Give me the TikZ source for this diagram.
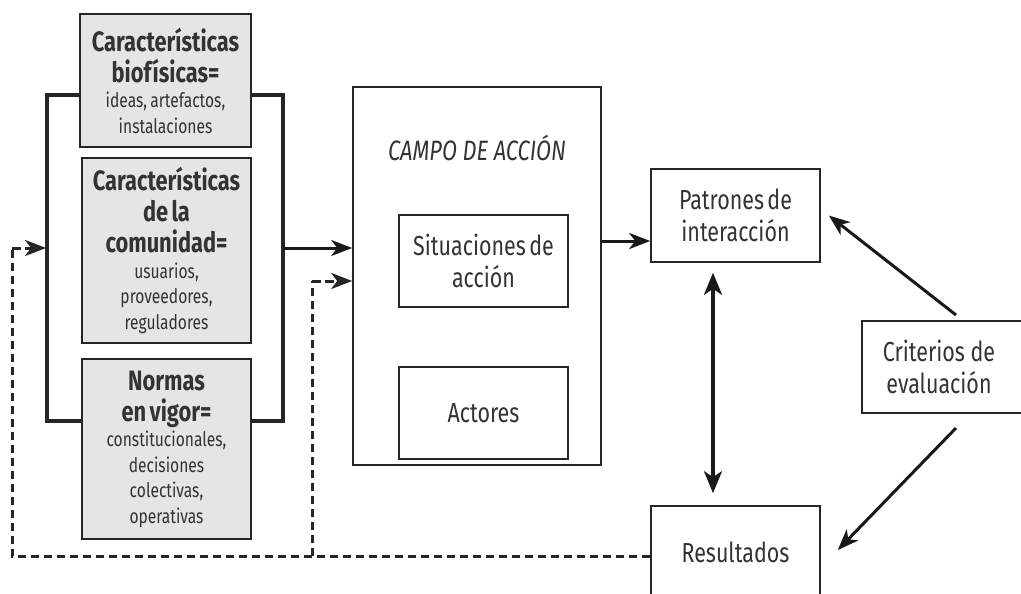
\documentclass[tikz,border=0pt]{standalone}
\usepackage{fontspec}
\setmainfont[FakeStretch=0.78]{Fira Sans}
\usetikzlibrary{arrows.meta,calc}
\newcommand{\hdf}{\fontsize{28}{31}\bfseries}
\newcommand{\smf}{\fontsize{20}{25.5}\selectfont}
\newcommand{\lbf}{\fontsize{27.5}{32}\selectfont}
\begin{document}
\begin{tikzpicture}[x=1pt,y=-1pt,
 box/.style={draw=black!85, line width=1.6pt, fill=white, inner sep=0pt, align=center, text=black!80, text width=166pt},
 gbox/.style={box, fill=black!10},
 brk/.style={line width=3.4pt, draw=black!85},
 tip/.style={-{Stealth[length=21pt,width=16pt,inset=6pt]}},
 arr/.style={line width=3pt, draw=black!90, tip},
 darr/.style={line width=3.4pt, draw=black!90, {Stealth[length=22pt,width=18pt,inset=6pt]}-{Stealth[length=22pt,width=18pt,inset=6pt]}},
 dsh/.style={line width=3pt, dash pattern=on 8.5pt off 4.5pt, draw=black!85},
]
\clip (0,0) rectangle (1021,594);
\fill[white] (0,0) rectangle (1021,594);

% left column
\node[gbox, minimum width=171pt, minimum height=133pt] (b1) at (165.5,80.5)
 {{\hdf Características\\ biofísicas=\par}{\smf ideas, artefactos,\\ instalaciones\par}};
\node[gbox, minimum width=169pt, minimum height=185pt] (b2) at (166.5,250.5)
 {{\hdf Características\\ de la\\ comunidad=\par}{\smf usuarios,\\ proveedores,\\ reguladores\par}};
\node[gbox, minimum width=169pt, minimum height=180pt] (b3) at (166.5,449)
 {{\hdf Normas\\ en vigor=\par}{\smf constitucionales,\\ decisiones\\ colectivas,\\ operativas\par}};

% brackets
\draw[brk] (b1.west |- 0,95) -- (47,95) -- (47,421) -- (b3.west |- 0,421);
\draw[brk] (b1.east |- 0,95) -- (283,95) -- (283,421) -- (b3.east |- 0,421);
\coordinate (lb) at (46,248);
\coordinate (rb) at (283,248);

% action field
\node[box, minimum width=248pt, minimum height=378pt] (campo) at (477,276) {};
\node[text=black!80, font={\fontsize{28}{32}\itshape}] (ctitle) at (477,148) {CAMPO DE ACCIÓN};
\node[box, minimum width=169pt, minimum height=92pt] (sit) at (483.5,261) {\lbf Situaciones de\\ acción\par};
\node[box, minimum width=169pt, minimum height=92pt] (act) at (483.5,413) {\lbf Actores\par};

% right side
\node[box, minimum width=169pt, minimum height=93pt] (pat) at (735.5,215.5) {\lbf Patrones de\\ interacción\par};
\node[box, minimum width=170pt, minimum height=92pt, anchor=west] (crit) at (861,367) {};
\node[text=black!80, align=center, font=\lbf] (crittext) at (939,367) {Criterios de\\ evaluación};
\node[box, minimum width=169pt, minimum height=100pt] (res) at (735.5,556) {\lbf Resultados\par\vspace{8pt}};

% arrows
\draw[arr] (rb) -- (campo.west |- rb);
\draw[arr] (campo.east |- 0,241) -- (pat.west |- 0,241);
\draw[darr] ($(pat.south)+(-22.5,10)$) -- ($(res.north)+(-22.5,-12)$);
\coordinate (c1) at (956,315);
\coordinate (c2) at (956,428);
\draw[arr] (c1) -- ($(pat.east)+(8,0)$);
\draw[arr] (c2) -- ($(res.east)+(17,-6)$);

% dashed feedback
\coordinate (d1) at (12,556);
\coordinate (d2) at (312,556);
\draw[dsh] (res.west |- d1) -- (d1) -- (12,248);
\draw[dsh, tip] (12,248) -- (lb);
\draw[dsh] (d2) -- (312,281);
\draw[dsh, tip] (312,281) -- (campo.west |- 0,281);
\end{tikzpicture}
\end{document}
